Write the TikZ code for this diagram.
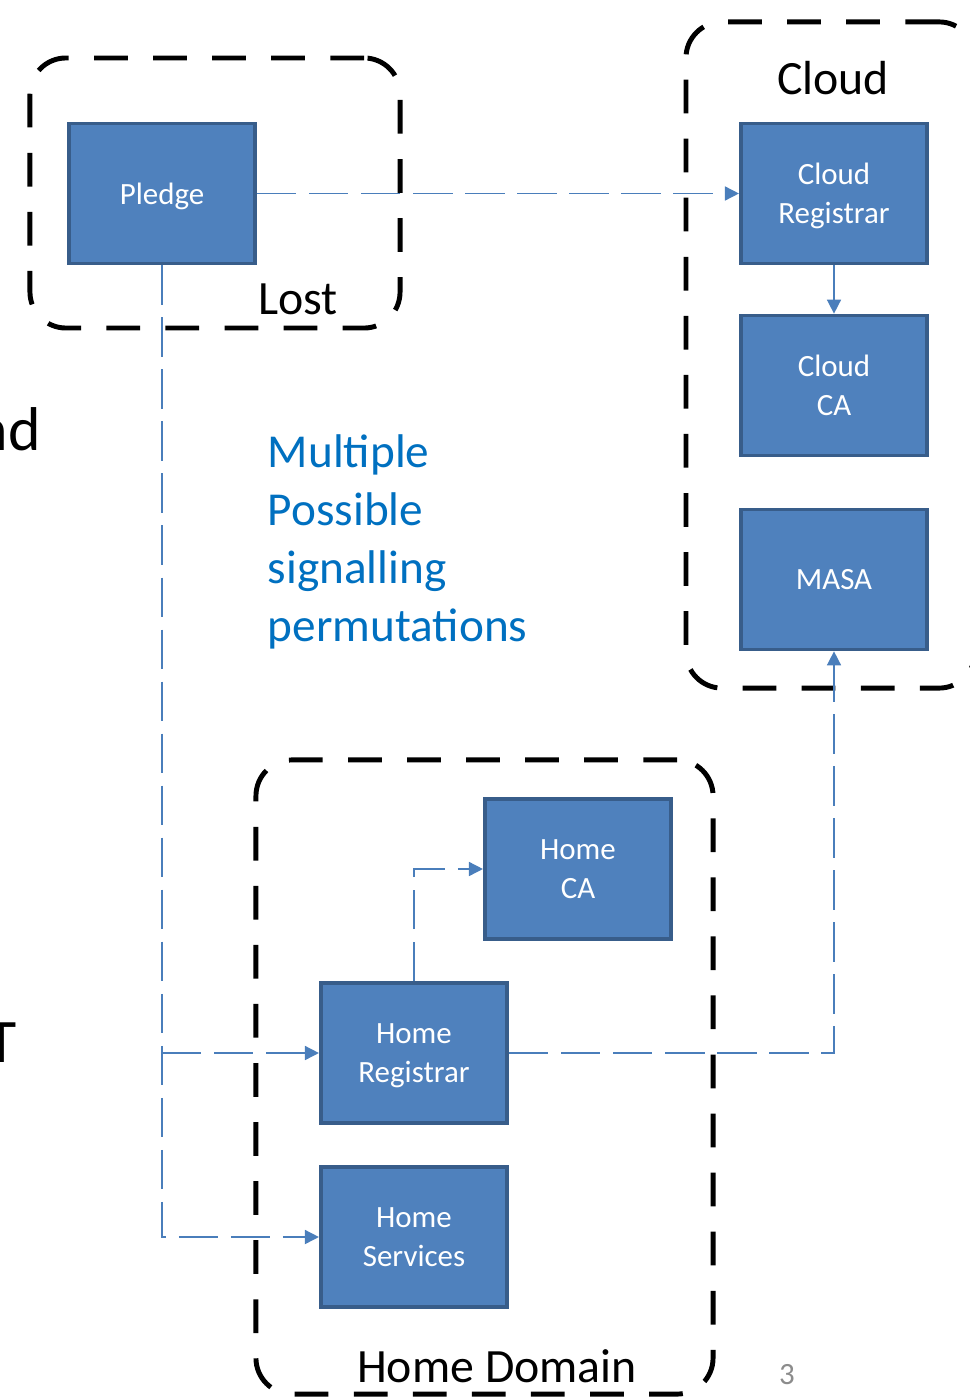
\documentclass[tikz,border=0pt]{standalone}
\usepackage{fontspec}
\setmainfont{Carlito}
\usetikzlibrary{arrows.meta}

\definecolor{boxblue}{HTML}{4F81BD}
\definecolor{boxedge}{HTML}{385D8A}
\definecolor{linkblue}{HTML}{4A7EBB}
\definecolor{noteblue}{HTML}{0070C0}
\definecolor{numgrey}{HTML}{8C8C8C}

\tikzstyle{entity} = [rectangle, minimum width=4.66cm, minimum height=3.5cm, align=center, draw=boxedge, line width=2.6pt, fill=boxblue, text=white, text depth=0pt, font=\fontsize{22}{28}\selectfont]
\tikzstyle{zone} = [rectangle, rounded corners=0.9cm, draw=black, line width=3.5pt, dash pattern=on 24pt off 18pt]
\tikzstyle{zone_label} = [font=\fontsize{34}{40}\selectfont]
\tikzstyle{arrow} = [draw=linkblue, line width=1.1pt, -{Triangle[length=10pt,width=10pt]}]
\tikzstyle{dash_arrow} = [arrow, dash pattern=on 28pt off 9pt]

\begin{document}
\begin{tikzpicture}[x=0.025cm, y=-0.025cm]
    \useasboundingbox (0,0) rectangle (969,1400);

    % Zones
    \node (lostbox) [zone, minimum width=9.25cm, minimum height=6.75cm] at (215,193) {};
    \node (cloudbox) [zone, minimum width=7.225cm, minimum height=16.65cm] at (830.5,355) {};
    \node (homebox) [zone, minimum width=11.425cm, minimum height=15.85cm] at (484.5,1077) {};

    \node (lostlabel) [zone_label] at (298,299) {Lost};
    \node (cloudlabel) [zone_label] at (833,78) {Cloud};
    \node (homelabel) [zone_label] at (497,1366) {Home Domain};

    % Nodes
    \node (pledge) [entity] at (162,193.5) {Pledge};
    \node (cloudreg) [entity] at (834,193.5) {Cloud\\Registrar};
    \node (cloudca) [entity] at (834,385.5) {Cloud\\CA};
    \node (masa) [entity] at (834,579.5) {MASA};
    \node (homeca) [entity] at (578,869) {Home\\CA};
    \node (homereg) [entity] at (414,1053) {Home\\Registrar};
    \node (homeserv) [entity] at (414,1237) {Home\\Services};

    \node (note) [anchor=west, align=left, text=noteblue, font=\fontsize{33.6}{41.2}\selectfont] at (263,542) {Multiple\\Possible\\signalling\\permutations};

    % Slide leftovers
    \node (leftnd) [anchor=base east, inner sep=0pt, font=\fontsize{44}{50}\selectfont] at (41,450) {nd};
    \node (leftt) [anchor=base east, inner sep=0pt, font=\fontsize{44}{50}\selectfont] at (17,1062) {T};
    \node (slidenum) [text=numgrey, font=\fontsize{22}{26}\selectfont] at (787,1375) {3};

    % Arrows
    \coordinate (branch) at (pledge.south |- homereg.west);

    \draw [dash_arrow] (pledge) -- (cloudreg);
    \draw [arrow] (cloudreg) -- (cloudca);
    \draw [dash_arrow] (pledge.south) |- (homeserv.west);
    \draw [dash_arrow] (branch) -- (homereg.west);
    \draw [dash_arrow] (homereg.north) |- (homeca.west);
    \draw [dash_arrow] (homereg.east) -| (masa.south);

\end{tikzpicture}
\end{document}
